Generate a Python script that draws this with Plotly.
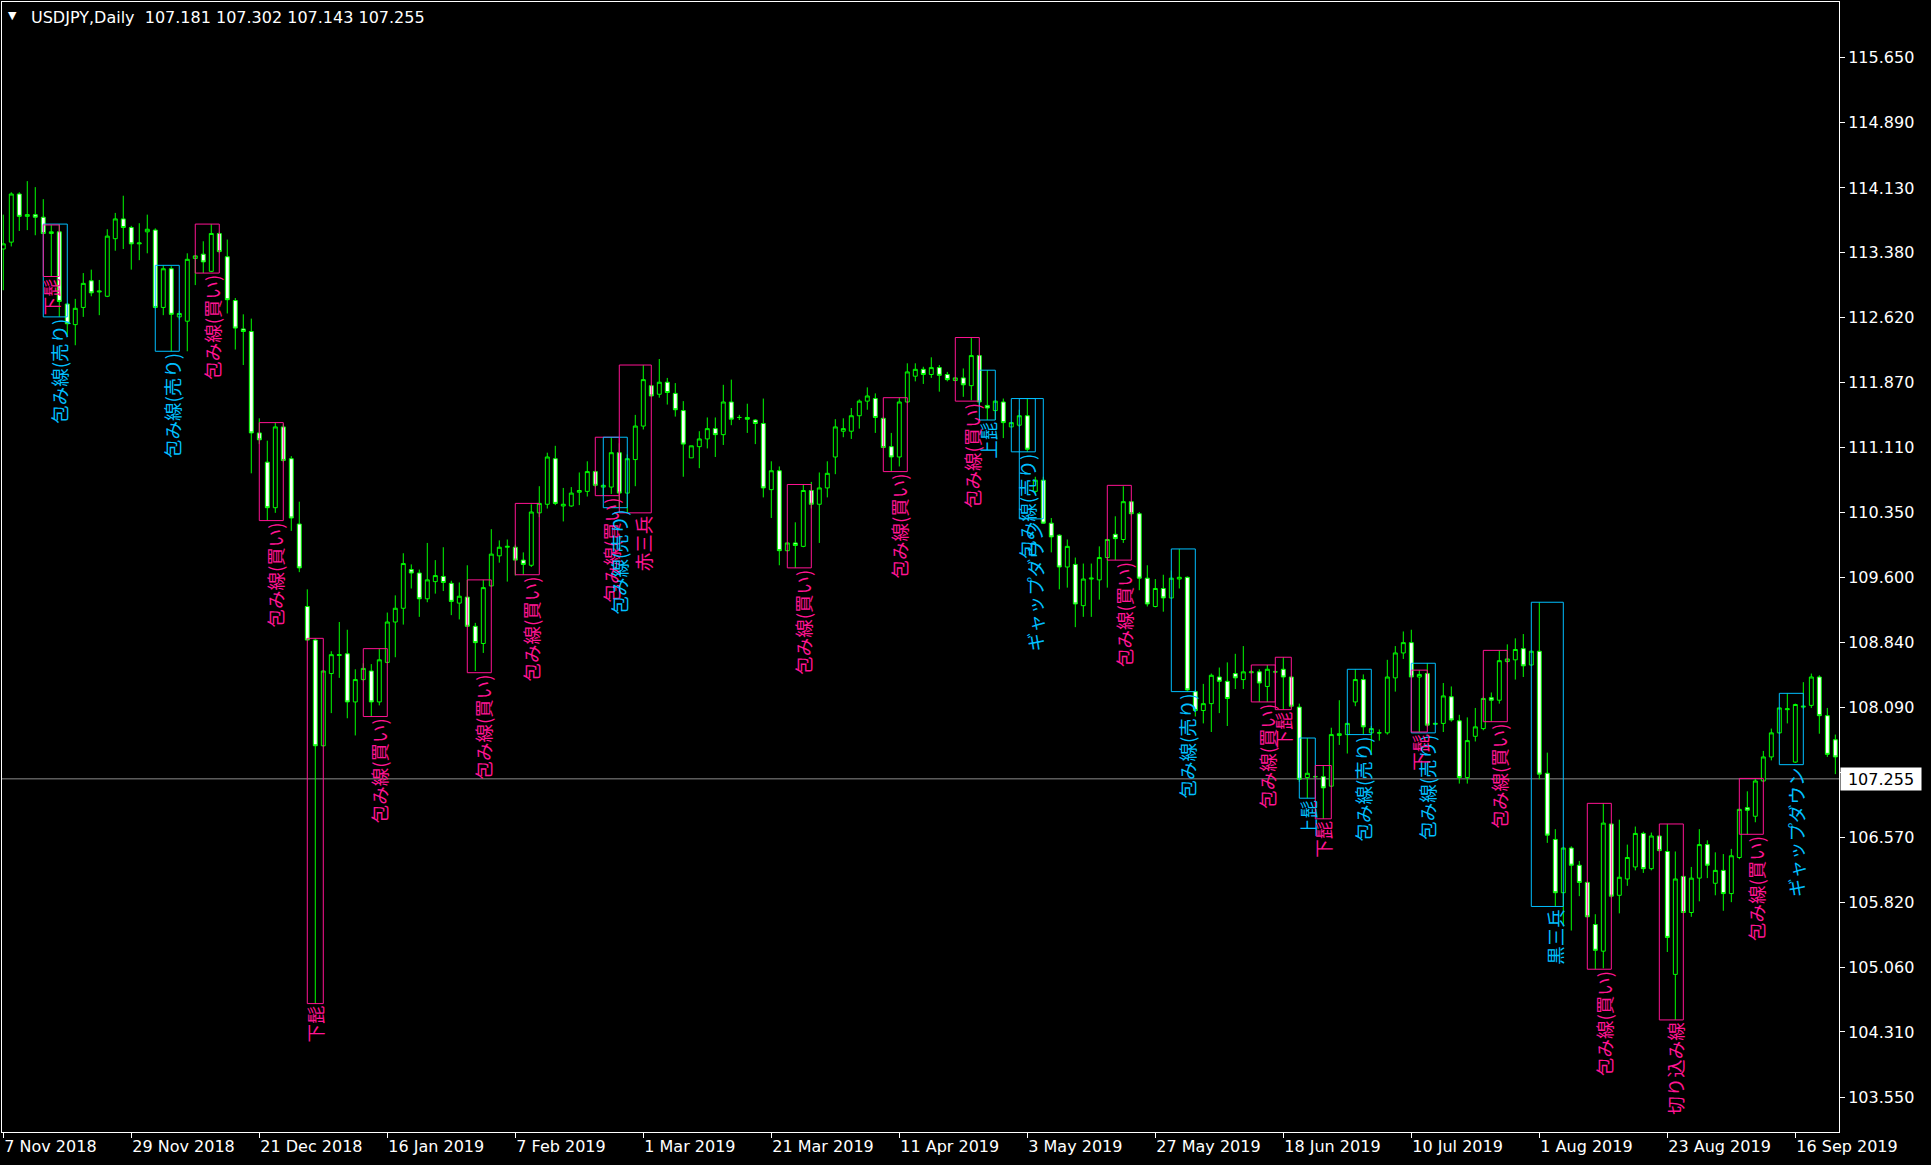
import plotly.graph_objects as go

# ---------------- data ----------------
opens = [
113.42, 113.50, 114.06, 113.80, 113.82, 113.79, 113.60, 113.62, 112.78, 112.54,
112.74, 113.05, 112.92, 112.87, 113.54, 113.77, 113.67, 113.48, 113.62, 113.64,
112.74, 113.19, 112.63, 112.58, 113.31, 113.36, 113.16, 113.60, 113.33, 112.82,
112.49, 112.46, 111.28, 110.94, 110.41, 111.35, 110.98, 110.22, 109.26, 108.87,
107.64, 108.48, 108.69, 108.71, 108.15, 108.41, 108.51, 108.15, 108.61, 109.08,
109.24, 109.69, 109.65, 109.35, 109.55, 109.61, 109.53, 109.30, 109.37, 109.03,
108.83, 109.50, 109.85, 109.95, 109.95, 109.80, 109.74, 110.35, 110.45, 110.98,
110.43, 110.43, 110.59, 110.60, 110.83, 110.65, 110.65, 111.05, 110.58, 110.97,
111.36, 111.83, 111.73, 111.87, 111.74, 111.54, 110.99, 111.12, 111.21, 111.33,
111.26, 111.64, 111.46, 111.46, 111.43, 111.39, 110.62, 110.84, 109.91, 110.00,
109.96, 110.61, 110.45, 110.64, 111.00, 111.30, 111.30, 111.48, 111.65, 111.68,
111.45, 111.12, 111.00, 111.64, 111.94, 112.02, 111.96, 112.04, 111.96, 111.89,
111.92, 111.83, 112.18, 111.60, 111.54, 111.64, 111.35, 111.37, 111.48, 110.60,
110.73, 110.23, 110.09, 109.72, 109.75, 109.27, 109.58, 109.57, 109.83, 110.10,
110.04, 110.48, 110.34, 109.59, 109.26, 109.47, 109.36, 109.58, 109.60, 108.27,
108.05, 108.13, 108.44, 108.39, 108.48, 108.41, 108.49, 108.50, 108.33, 108.50,
108.53, 108.44, 108.09, 107.27, 107.28, 107.28, 107.17, 107.76, 107.77, 108.15,
108.41, 107.79, 107.79, 107.79, 108.43, 108.72, 108.84, 108.44, 108.48, 107.89,
107.90, 108.21, 107.93, 107.27, 107.75, 107.84, 108.20, 108.17, 108.62, 108.64,
108.77, 108.58, 108.74, 107.32, 106.55, 105.93, 106.45, 106.25, 106.05, 105.56,
105.25, 106.73, 105.90, 106.09, 106.23, 106.62, 106.21, 106.59, 106.41, 104.98,
106.12, 105.70, 106.10, 106.49, 106.04, 106.19, 105.92, 106.34, 106.92, 106.82,
107.23, 107.51, 107.79, 108.06, 107.45, 108.09, 108.11, 108.44, 107.99, 107.71,
]
highs = [
113.82, 114.08, 114.08, 114.21, 114.14, 114.00, 113.70, 113.71, 112.79, 112.84,
113.14, 113.18, 113.06, 113.65, 113.84, 114.04, 113.69, 113.72, 113.82, 113.66,
113.23, 113.22, 112.70, 113.37, 113.35, 113.51, 113.71, 113.62, 113.53, 112.85,
112.66, 112.61, 111.45, 111.19, 111.40, 111.38, 111.01, 110.48, 109.46, 108.89,
108.52, 108.74, 109.08, 108.99, 108.53, 108.60, 108.59, 108.77, 109.19, 109.39,
109.88, 109.75, 109.69, 110.00, 109.80, 109.95, 109.56, 109.54, 109.74, 109.07,
109.57, 110.16, 110.03, 110.04, 109.98, 109.89, 110.45, 110.66, 111.05, 111.13,
110.64, 110.65, 110.82, 110.95, 110.84, 110.69, 111.23, 111.16, 111.03, 111.49,
112.07, 111.84, 112.14, 111.92, 111.86, 111.65, 111.13, 111.30, 111.46, 111.46,
111.84, 111.90, 111.49, 111.62, 111.44, 111.68, 110.95, 110.89, 110.00, 110.24,
110.68, 110.71, 110.82, 110.95, 111.44, 111.45, 111.57, 111.67, 111.81, 111.74,
111.46, 111.28, 111.69, 112.09, 112.09, 112.05, 112.16, 112.07, 111.99, 111.93,
112.03, 112.39, 112.19, 112.01, 111.66, 111.68, 111.41, 111.55, 111.68, 110.77,
110.77, 110.29, 110.10, 110.04, 109.83, 109.76, 109.76, 109.96, 110.05, 110.31,
110.66, 110.49, 110.36, 109.74, 109.58, 109.63, 109.68, 109.93, 109.61, 108.29,
108.36, 108.48, 108.55, 108.61, 108.71, 108.80, 108.52, 108.53, 108.58, 108.52,
108.67, 108.45, 108.13, 107.73, 107.30, 107.41, 107.85, 108.17, 107.91, 108.53,
108.47, 107.87, 107.83, 108.64, 108.80, 108.97, 108.99, 108.52, 108.60, 107.91,
108.37, 108.33, 108.00, 107.97, 108.08, 108.21, 108.26, 108.75, 108.82, 108.89,
108.94, 108.75, 109.31, 107.56, 106.67, 106.46, 106.47, 106.30, 106.06, 105.68,
106.97, 106.74, 106.78, 106.49, 106.70, 106.64, 106.63, 106.60, 106.73, 106.41,
106.12, 106.23, 106.67, 106.54, 106.40, 106.38, 106.44, 106.91, 107.11, 107.26,
107.58, 107.84, 108.08, 108.25, 108.13, 108.38, 108.48, 108.46, 108.08, 107.77,
]
lows = [
112.94, 113.45, 113.63, 113.64, 113.58, 113.59, 113.10, 112.63, 112.42, 112.30,
112.63, 112.87, 112.65, 112.86, 113.40, 113.42, 113.18, 113.29, 113.37, 112.73,
112.65, 112.23, 112.60, 112.23, 113.00, 113.14, 113.15, 113.37, 112.67, 112.25,
112.07, 110.81, 111.15, 110.26, 110.35, 110.94, 110.14, 109.66, 108.86, 104.64,
107.63, 108.02, 108.43, 107.96, 107.76, 108.39, 107.98, 108.11, 108.60, 108.67,
109.05, 109.47, 109.14, 109.31, 109.41, 109.44, 109.16, 109.11, 109.02, 108.51,
108.72, 109.49, 109.77, 109.55, 109.62, 109.63, 109.72, 110.30, 110.40, 110.44,
110.25, 110.42, 110.44, 110.54, 110.65, 110.55, 110.57, 110.41, 110.35, 110.66,
111.32, 111.70, 111.69, 111.61, 111.47, 110.77, 110.99, 110.87, 111.10, 111.00,
111.14, 111.37, 111.43, 111.28, 111.15, 110.53, 110.29, 109.74, 109.90, 109.71,
109.95, 110.40, 110.00, 110.53, 110.80, 111.23, 111.21, 111.33, 111.55, 111.28,
111.11, 110.83, 110.89, 111.63, 111.88, 111.85, 111.92, 111.76, 111.88, 111.88,
111.70, 111.66, 111.58, 111.43, 111.43, 111.22, 111.35, 111.35, 111.06, 110.56,
110.22, 109.89, 109.46, 109.48, 109.02, 109.14, 109.14, 109.34, 109.48, 109.80,
110.00, 110.32, 109.45, 109.26, 109.25, 109.20, 109.35, 109.47, 108.27, 107.98,
107.90, 107.80, 108.02, 107.87, 108.30, 108.30, 108.48, 108.15, 108.15, 108.48,
108.06, 108.08, 107.22, 107.03, 107.26, 106.79, 107.16, 107.65, 107.55, 108.10,
107.77, 107.53, 107.70, 107.77, 108.27, 108.65, 108.44, 107.80, 107.86, 107.88,
107.80, 107.92, 107.20, 107.20, 107.69, 107.82, 107.92, 108.13, 108.60, 108.41,
108.44, 108.57, 107.25, 106.51, 105.77, 105.54, 105.49, 105.89, 105.64, 105.04,
105.05, 105.87, 105.69, 106.01, 106.19, 106.16, 106.19, 106.41, 105.24, 104.45,
105.69, 105.65, 105.83, 106.10, 105.90, 105.72, 105.82, 106.32, 106.61, 106.75,
107.22, 107.47, 107.78, 107.90, 107.44, 108.07, 108.08, 107.78, 107.51, 107.31,
]
closes = [
113.48, 114.06, 113.80, 113.82, 113.79, 113.60, 113.62, 112.81, 112.55, 112.73,
113.02, 112.91, 112.93, 113.57, 113.77, 113.67, 113.48, 113.49, 113.65, 112.74,
113.19, 112.66, 112.67, 113.30, 113.34, 113.27, 113.60, 113.39, 112.83, 112.50,
112.46, 111.28, 111.20, 110.41, 111.35, 110.96, 110.29, 109.71, 108.87, 107.64,
108.51, 108.70, 108.70, 108.15, 108.41, 108.54, 108.15, 108.64, 109.08, 109.24,
109.76, 109.65, 109.35, 109.57, 109.62, 109.54, 109.32, 109.38, 109.03, 108.84,
109.48, 109.87, 109.95, 109.96, 109.80, 109.75, 110.36, 110.46, 111.00, 110.46,
110.45, 110.58, 110.61, 110.83, 110.67, 110.67, 111.05, 110.58, 110.98, 111.36,
111.90, 111.71, 111.87, 111.75, 111.55, 111.15, 111.13, 111.21, 111.33, 111.26,
111.64, 111.44, 111.46, 111.44, 111.39, 110.64, 110.84, 109.91, 110.00, 109.97,
110.61, 110.45, 110.64, 110.81, 111.35, 111.33, 111.48, 111.65, 111.71, 111.46,
111.11, 111.00, 111.64, 111.99, 112.02, 111.96, 112.04, 111.95, 111.90, 111.92,
111.84, 112.18, 111.64, 111.57, 111.65, 111.40, 111.40, 111.48, 111.09, 110.73,
110.23, 110.07, 109.72, 109.96, 109.29, 109.58, 109.59, 109.83, 110.04, 110.05,
110.48, 110.34, 109.59, 109.29, 109.47, 109.36, 109.59, 109.60, 108.29, 108.05,
108.13, 108.46, 108.39, 108.19, 108.43, 108.50, 108.50, 108.37, 108.53, 108.50,
108.44, 108.10, 107.25, 107.32, 107.28, 107.15, 107.77, 107.78, 107.90, 108.41,
107.86, 107.84, 107.79, 108.44, 108.72, 108.84, 108.44, 108.47, 107.88, 107.90,
108.22, 107.94, 107.27, 107.70, 107.86, 108.19, 108.17, 108.63, 108.65, 108.76,
108.57, 108.74, 107.31, 106.60, 105.93, 106.45, 106.25, 106.05, 105.65, 105.26,
106.74, 105.89, 106.11, 106.34, 106.62, 106.21, 106.59, 106.42, 105.41, 106.09,
105.70, 106.10, 106.49, 106.25, 106.19, 105.92, 106.36, 106.90, 106.89, 107.23,
107.51, 107.79, 108.08, 108.07, 108.12, 108.10, 108.44, 107.99, 107.54, 107.51,
]

# date labels shown every 16 bars
tick_bars = [0, 16, 32, 48, 64, 80, 96, 112, 128, 144, 160, 176, 192, 208, 224]
tick_labels = ["7 Nov 2018", "29 Nov 2018", "21 Dec 2018", "16 Jan 2019", "7 Feb 2019",
               "1 Mar 2019", "21 Mar 2019", "11 Apr 2019", "3 May 2019", "27 May 2019",
               "18 Jun 2019", "10 Jul 2019", "1 Aug 2019", "23 Aug 2019", "16 Sep 2019"]

price_ticks = [115.650, 114.890, 114.130, 113.380, 112.620, 111.870, 111.110, 110.350,
               109.600, 108.840, 108.090, 107.330, 106.570, 105.820, 105.060, 104.310, 103.550]
hidden_tick = 107.330  # its label sits under the current-price tag

current_price = 107.255
header_text = "USDJPY,Daily\u00a0\u00a0107.181 107.302 107.143 107.255"

# candle-pattern boxes: first bar, last bar, top, bottom, kind (0 = buy, 1 = sell), label
box_start = [5, 5, 19, 24, 32, 38, 45, 58, 64, 74, 75, 77, 98, 110, 119, 122, 126, 127, 138, 146,
             156, 159, 162, 164, 168, 176, 176, 185, 191, 198, 207, 217, 222]
box_end = [8, 7, 22, 27, 35, 40, 48, 61, 67, 77, 78, 81, 101, 113, 122, 124, 129, 130, 141, 149,
           159, 161, 164, 166, 171, 179, 178, 188, 195, 201, 210, 220, 225]
box_top = [113.71, 113.70, 113.23, 113.71, 111.40, 108.89, 108.77, 109.57, 110.46, 111.23,
           111.23, 112.07, 110.68, 111.69, 112.39, 112.01, 111.68, 111.68, 110.67, 109.93,
           108.58, 108.67, 107.73, 107.41, 108.53, 108.60, 108.52, 108.75, 109.31, 106.97,
           106.73, 107.26, 108.25]
box_bottom = [112.63, 113.10, 112.23, 113.14, 110.26, 104.64, 107.98, 108.49, 109.63, 110.55,
              110.41, 110.35, 109.71, 110.83, 111.65, 111.43, 111.06, 110.28, 109.80, 108.27,
              108.15, 108.06, 107.03, 106.79, 107.77, 107.79, 107.80, 107.92, 105.77, 105.04,
              104.45, 106.61, 107.42]
box_kind = [1, 0, 1, 0, 0, 0, 0, 0, 0, 0, 1, 0, 0, 0, 0, 1, 1, 1, 0, 1,
            0, 0, 1, 0, 1, 1, 0, 0, 1, 0, 0, 0, 1]
box_label = ["包み線(売り)", "下髭", "包み線(売り)", "包み線(買い)", "包み線(買い)", "下髭",
             "包み線(買い)", "包み線(買い)", "包み線(買い)", "包み線(買い)", "包み線(売り)", "赤三兵",
             "包み線(買い)", "包み線(買い)", "包み線(買い)", "上髭", "包み線(売り)", "ギャップダウン",
             "包み線(買い)", "包み線(売り)", "包み線(買い)", "下髭", "上髭", "下髭", "包み線(売り)",
             "包み線(売り)", "下髭", "包み線(買い)", "黒三兵", "包み線(買い)", "切り込み線",
             "包み線(買い)", "ギャップダウン"]

# ---------------- styling ----------------
GREEN = "#00FF00"
PINK = "#FF1493"
BLUE = "#00BFFF"
kind_color = [PINK, BLUE]

W, H = 1931, 1165
ML, MR, MT, MB = 2, 92, 2, 33

bars = list(range(len(opens)))

fig = go.Figure()
fig.add_trace(go.Candlestick(
    x=bars, open=opens, high=highs, low=lows, close=closes,
    increasing=dict(line=dict(color=GREEN, width=1), fillcolor="black"),
    decreasing=dict(line=dict(color=GREEN, width=1), fillcolor="white"),
    whiskerwidth=0, hoverinfo="skip", showlegend=False,
))

shapes = []
annotations = []

# current price line
shapes.append(dict(type="line", xref="paper", x0=0, x1=1, yref="y",
                   y0=current_price, y1=current_price,
                   line=dict(color="#8c8c8c", width=1), layer="below"))

for s, e, t, b, k, lab in zip(box_start, box_end, box_top, box_bottom, box_kind, box_label):
    col = kind_color[k]
    shapes.append(dict(type="rect", xref="x", yref="y", x0=s, x1=e, y0=b, y1=t,
                       line=dict(color=col, width=1), fillcolor="rgba(0,0,0,0)", layer="above"))
    annotations.append(dict(x=e - 1, y=b, xref="x", yref="y", text=lab, textangle=-90,
                            showarrow=False, xanchor="center", yanchor="top", yshift=-1,
                            borderpad=0,
                            font=dict(family="Noto Sans CJK JP", size=18.5, color=col)))

# header
annotations.append(dict(xref="paper", yref="paper", x=0, y=1, xanchor="left", yanchor="middle",
                        xshift=27, yshift=-15, text=header_text, showarrow=False,
                        font=dict(family="DejaVu Sans", size=16, color="white")))
annotations.append(dict(xref="paper", yref="paper", x=0, y=1, xanchor="left", yanchor="middle",
                        xshift=4, yshift=-13, text="▼", showarrow=False,
                        font=dict(family="DejaVu Sans", size=11, color="white")))
# current price tag
annotations.append(dict(xref="paper", yref="y", x=1, y=current_price, xanchor="left",
                        yanchor="middle", xshift=1, text="107.255", showarrow=False,
                        bgcolor="white", width=78, height=20, align="center", borderpad=1,
                        font=dict(family="DejaVu Sans", size=16, color="black")))

fig.update_layout(
    width=W, height=H,
    margin=dict(l=ML, r=MR, t=MT, b=MB, pad=0),
    paper_bgcolor="black", plot_bgcolor="black",
    showlegend=False,
    shapes=shapes, annotations=annotations,
    xaxis=dict(range=[-0.16, 229.46], rangeslider=dict(visible=False),
               tickmode="array", tickvals=tick_bars, ticktext=tick_labels,
               ticks="outside", ticklen=5, tickcolor="white", tickwidth=1,
               ticklabelposition="outside right",
               showgrid=False, zeroline=False,
               showline=True, mirror=True, linecolor="white", linewidth=1,
               tickfont=dict(family="DejaVu Sans", size=16, color="white")),
    yaxis=dict(range=[103.146, 116.294], side="right",
               tickmode="array", tickvals=price_ticks,
               ticktext=["" if v == hidden_tick else f"{v:.3f}" for v in price_ticks],
               ticks="outside", ticklen=5, tickcolor="white", tickwidth=1,
               showgrid=False, zeroline=False,
               showline=True, mirror=True, linecolor="white", linewidth=1,
               tickfont=dict(family="DejaVu Sans", size=16, color="white")),
)

fig.write_html("out.html", config={"displayModeBar": False},
               post_script="document.body.style.margin='0';document.body.style.overflow='hidden';")
